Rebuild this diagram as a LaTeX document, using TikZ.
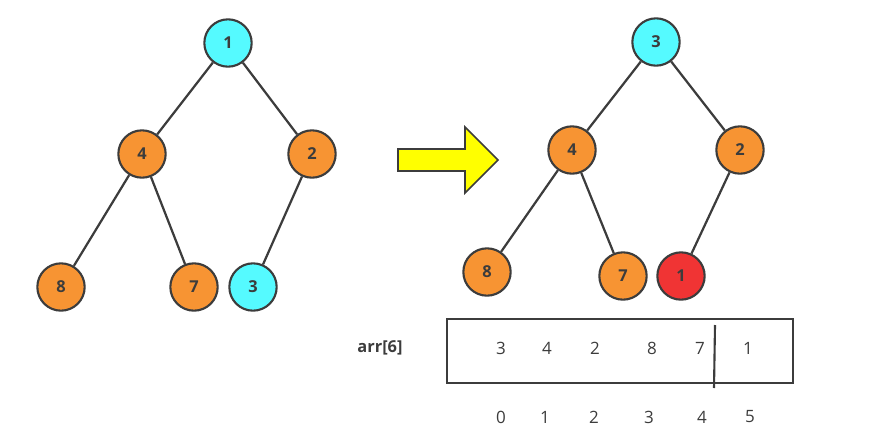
\documentclass[tikz,border=0pt]{standalone}
\usepackage{fontspec}
\setmainfont{Open Sans}
\usepackage{tikz}
\usetikzlibrary{positioning,calc}
\definecolor{cyanfill}{RGB}{85,250,255}
\definecolor{orangefill}{RGB}{247,148,51}
\definecolor{redfill}{RGB}{240,52,52}
\definecolor{arrowfill}{RGB}{255,255,0}
\definecolor{edgegray}{RGB}{60,60,60}

\begin{document}
\begin{tikzpicture}[x=0.03cm,y=-0.03cm,
    every node/.style={font=\fontsize{14}{16}\selectfont\bfseries, text=edgegray},
    heapnode/.style={circle, draw=edgegray, line width=1.8pt, minimum size=1.42cm, inner sep=0pt},
    hot/.style={heapnode, fill=cyanfill},
    warm/.style={heapnode, fill=orangefill},
    done/.style={heapnode, fill=redfill},
    link/.style={draw=edgegray, line width=1.9pt},
    cell/.style={font=\fontsize{14.5}{16}\selectfont, text=edgegray}]
        \useasboundingbox (0,0) rectangle (879,447);
        % heap before swap
        \node[hot]  (l1) at (228,43)  {1};
        \node[warm] (l4) at (142,154) {4};
        \node[warm] (l2) at (312,154) {2};
        \node[warm] (l8) at (61,287)  {8};
        \node[warm] (l7) at (194,287) {7};
        \node[hot]  (l3) at (253,287) {3};
        \draw[link] (l1) -- (l4) (l1) -- (l2) (l4) -- (l8) (l4) -- (l7) (l2) -- (l3);
        % arrow
        \draw[draw=edgegray, line width=1.4pt, fill=arrowfill] (398,149) -- (465,149) -- (465,127) -- (498,160) -- (465,193) -- (465,171) -- (398,171) -- cycle;
        % heap after swap
        \node[hot]  (r3) at (656,42)  {3};
        \node[warm] (r4) at (572,150) {4};
        \node[warm] (r2) at (740,150) {2};
        \node[warm] (r8) at (487,272) {8};
        \node[warm] (r7) at (623,276) {7};
        \node[done] (r1) at (681,276) {1};
        \draw[link] (r3) -- (r4) (r3) -- (r2) (r4) -- (r8) (r4) -- (r7) (r2) -- (r1);
        % array
        \node[draw=edgegray, line width=1.8pt, minimum width=10.38cm, minimum height=1.92cm, inner sep=0pt] (arr) at (620,351) {};
        \node (arrname) at (380,348) {arr[6]};
        \foreach \v/\x [count=\i from 0] in {3/501,4/547,2/595,8/652,7/700,1/748} {
            \node[cell] (v\i) at (\x,348) {\v};
        }
        \foreach \x [count=\i from 0] in {501,545,594,649,702,750} {
            \node[cell] (i\i) at (\x,417) {\i};
        }
        \coordinate (cuttop) at (715,325);
        \coordinate (cutbot) at (714,388);
        \draw[draw=edgegray, line width=1.8pt] (cuttop) -- (cutbot);
    \end{tikzpicture}
\end{document}
